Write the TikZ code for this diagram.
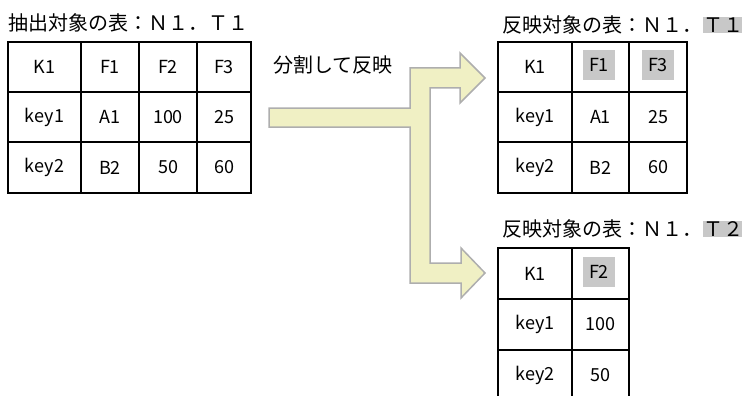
\documentclass[tikz,border=0pt]{standalone}
\usepackage{fontspec}
\setmainfont{Noto Sans CJK JP}
\begin{document}
\begin{tikzpicture}[x=1pt,y=-1pt,
  cell/.style={draw=black,line width=1.4pt,fill=white,inner sep=0pt,
    font=\fontsize{18}{20}\selectfont},
  hl/.style={fill=hlgray,inner sep=0pt,minimum width=32pt,minimum height=30pt,
    font=\fontsize{18}{20}\selectfont},
  ttl/.style={inner sep=0pt,font=\fontsize{20}{24}\selectfont},
  ttlhl/.style={ttl,fill=hlgray,inner xsep=0.5pt,inner ysep=1pt},
  arrowshape/.style={fill=arrowfill,draw=arrowline,line width=1.5pt,line join=miter}
]
\definecolor{hlgray}{HTML}{C8C8C8}
\definecolor{arrowfill}{HTML}{F0F0C4}
\definecolor{arrowline}{HTML}{AEAEAE}
\clip (0,0) rectangle (742,396);
\useasboundingbox (0,0) rectangle (742,396);

% titles
\node[ttl,anchor=west] (t0) at (8,23) {抽出対象の表：Ｎ１．Ｔ１};
\node[ttl,anchor=west] (t1a) at (502,25) {反映対象の表：Ｎ１．};
\node[ttlhl,anchor=west] (t1b) at (t1a.east) {Ｔ１};
\node[ttl,anchor=west] (t2a) at (502,229) {反映対象の表：Ｎ１．};
\node[ttlhl,anchor=west] (t2b) at (t2a.east) {Ｔ２};
\node[ttl,anchor=west] (lbl) at (273,65) {分割して反映};

% arrow
\draw[arrowshape] (269,108) -- (410,108) -- (410,68) -- (460,68) -- (460,53)
  -- (485,78) -- (460,103) -- (460,88) -- (430,88) -- (430,263) -- (461,263)
  -- (461,248) -- (485,273) -- (461,298) -- (461,283) -- (410,283)
  -- (410,127) -- (269,127) -- cycle;

% left table: columns 8,81,139,197,251 ; rows 42,92,142,193
\foreach \r/\ya/\yb/\a/\b/\c/\d in {1/42/92/K1/F1/F2/F3, 2/92/142/key1/A1/100/25, 3/142/193/key2/B2/50/60}{
  \node[cell,minimum width=73pt,minimum height={\yb-\ya}] (L\r a) at (44.5,{(\ya+\yb)/2}) {\a};
  \node[cell,minimum width=58pt,minimum height={\yb-\ya}] (L\r b) at (110,{(\ya+\yb)/2}) {\b};
  \node[cell,minimum width=58pt,minimum height={\yb-\ya}] (L\r c) at (168,{(\ya+\yb)/2}) {\c};
  \node[cell,minimum width=54pt,minimum height={\yb-\ya}] (L\r d) at (224,{(\ya+\yb)/2}) {\d};
}

% top right table: columns 498,572,629,687
\foreach \r/\ya/\yb/\a/\b/\c in {1/42/92/K1//, 2/92/142/key1/A1/25, 3/142/193/key2/B2/60}{
  \node[cell,minimum width=74pt,minimum height={\yb-\ya}] (R\r a) at (535,{(\ya+\yb)/2}) {\a};
  \node[cell,minimum width=57pt,minimum height={\yb-\ya}] (R\r b) at (600.5,{(\ya+\yb)/2}) {\b};
  \node[cell,minimum width=58pt,minimum height={\yb-\ya}] (R\r c) at (658,{(\ya+\yb)/2}) {\c};
}
\node[hl] (hF1) at (599,65) {F1};
\node[hl] (hF3) at (658,65) {F3};

% bottom right table: columns 498,572,629 ; rows 248,299,350,401
\foreach \r/\ya/\yb/\a/\b in {1/248/299/K1/, 2/299/350/key1/100, 3/350/401/key2/50}{
  \node[cell,minimum width=74pt,minimum height={\yb-\ya}] (B\r a) at (535,{(\ya+\yb)/2}) {\a};
  \node[cell,minimum width=57pt,minimum height={\yb-\ya}] (B\r b) at (600.5,{(\ya+\yb)/2}) {\b};
}
\node[hl] (hF2) at (599,272) {F2};
\end{tikzpicture}
\end{document}
